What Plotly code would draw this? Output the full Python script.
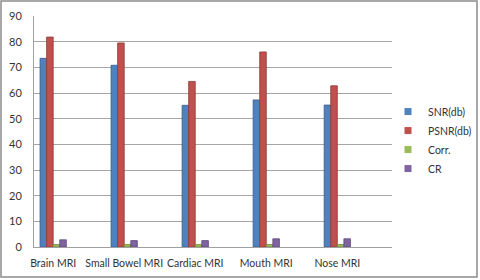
import plotly.graph_objects as go

categories = ["Brain MRI", "Small Bowel MRI", "Cardiac MRI", "Mouth MRI", "Nose MRI"]
snr = [73.5, 70.8, 55.2, 57.3, 55.3]
psnr = [81.8, 79.5, 64.5, 76.0, 62.8]
corr = [0.99, 0.98, 0.97, 0.98, 0.97]
cr = [2.8, 2.5, 2.5, 3.2, 3.2]
y_ticks = [0, 10, 20, 30, 40, 50, 60, 70, 80, 90]

series = [
    ("SNR(db)", snr, "#4F81BD", "#385D8A"),
    ("PSNR(db)", psnr, "#C0504D", "#8C3836"),
    ("Corr.", corr, "#9BBB59", "#71893F"),
    ("CR", cr, "#8064A2", "#5C4776"),
]

fig = go.Figure()
for name, vals, color, edge in series:
    fig.add_trace(go.Bar(
        x=categories, y=vals, name=name, legendgroup=name, showlegend=False,
        marker=dict(color=color, line=dict(color=edge, width=0.8)),
    ))
# legend entries with small square swatches like the original
for name, vals, color, edge in series:
    fig.add_trace(go.Scatter(
        x=[None], y=[None], name=name, legendgroup=name, mode="markers",
        marker=dict(symbol="square", size=7, color=color),
        showlegend=True,
    ))

fig.update_layout(
    width=480, height=280,
    margin=dict(l=34, r=88, t=16, b=33, autoexpand=False),
    paper_bgcolor="white", plot_bgcolor="white",
    barmode="group", bargap=0.63, bargroupgap=0.0,
    font=dict(family="Lato, Open Sans, sans-serif", size=10, color="#333333"),
    showlegend=True,
    legend=dict(x=(388 - 34) / 358, y=0.463, xanchor="left", yanchor="middle",
                font=dict(size=10.5), itemwidth=30, tracegroupgap=0,
                bgcolor="rgba(0,0,0,0)"),
    xaxis=dict(range=[-0.27, 4.77], showgrid=False, showline=True,
               linecolor="#A0A0A0", linewidth=1, ticks="", ticklabelstandoff=6,
               tickangle=0, automargin=False,
               tickfont=dict(size=10.5, color="#333333")),
    yaxis=dict(range=[0, 90], tickvals=y_ticks, showgrid=True,
               gridcolor="#A6A6A6", gridwidth=1, showline=True,
               linecolor="#A0A0A0", linewidth=1, ticks="", ticklabelstandoff=9,
               automargin=False,
               zeroline=False, tickfont=dict(size=11, color="#333333")),
    shapes=[dict(type="rect", xref="paper", yref="paper",
                 x0=-33/358, x1=(480-34-3)/358, y0=-30/231, y1=(231+15)/231,
                 line=dict(color="#8C8C8C", width=1.5), fillcolor="rgba(0,0,0,0)",
                 layer="below")],
)

fig.write_html("out.html", config={"displayModeBar": False},
               post_script="document.body.style.margin='0';document.body.style.padding='0';document.body.style.overflow='hidden';")
